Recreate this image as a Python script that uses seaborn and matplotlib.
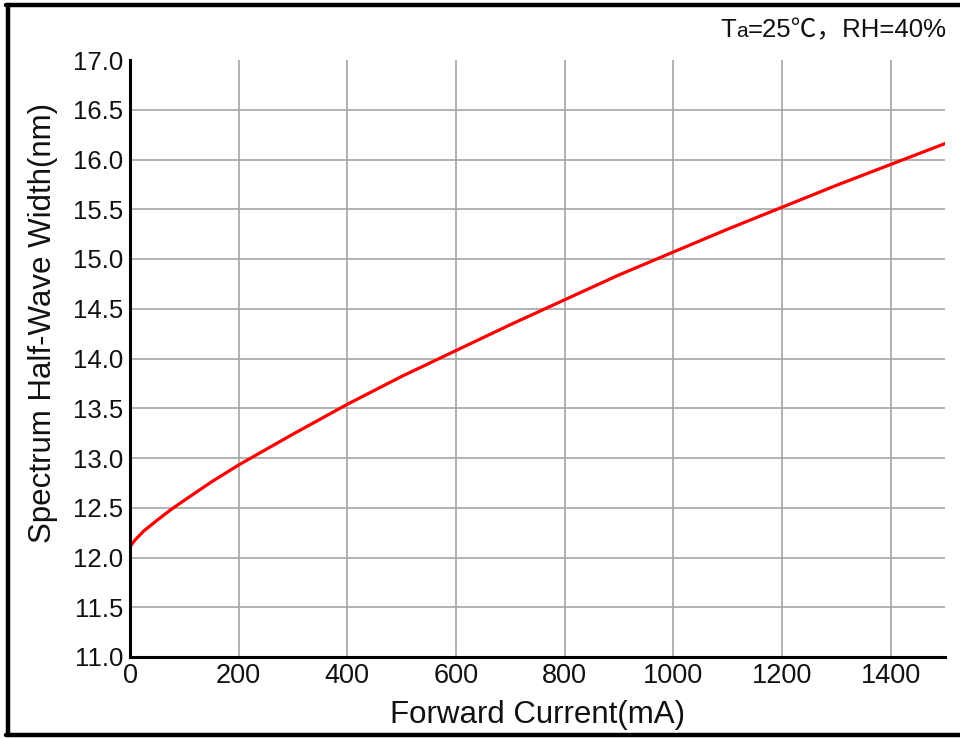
import matplotlib
matplotlib.use("Agg")
import matplotlib.pyplot as plt
import seaborn as sns
import pandas as pd
from matplotlib.lines import Line2D

current_ma = [0, 10, 25, 50, 75, 100, 150, 200, 300, 400, 500, 600, 700, 800, 900, 1000, 1100, 1200, 1300, 1400, 1500]
half_width_nm = [12.11, 12.18, 12.265, 12.375, 12.48, 12.575, 12.76, 12.93, 13.24, 13.54, 13.82, 14.08, 14.34, 14.59, 14.84, 15.07, 15.30, 15.52, 15.74, 15.95, 16.16]
x_ticks = [0, 200, 400, 600, 800, 1000, 1200, 1400]
y_ticks = [11.0, 11.5, 12.0, 12.5, 13.0, 13.5, 14.0, 14.5, 15.0, 15.5, 16.0, 16.5, 17.0]

sns.set_theme(style="white")
plt.rcParams['font.family'] = ['Liberation Sans', 'Noto Sans CJK SC', 'DejaVu Sans']

df = pd.DataFrame({"current": current_ma, "width": half_width_nm})

fig = plt.figure(figsize=(9.6, 7.38), dpi=100)
fig.patch.set_facecolor("white")
ax = fig.add_axes([130/960, 1-657/738, (945-130)/960, (657-60)/738])

sns.lineplot(data=df, x="current", y="width", ax=ax, color="#ff0000", linewidth=2.3)

ax.set_xlim(0, 1500)
ax.set_ylim(11.0, 17.0)
ax.set_xticks(x_ticks)
ax.set_yticks(y_ticks)
ax.set_xticklabels([str(v) for v in x_ticks], fontsize=19.5)
ax.set_yticklabels([f"{v:.1f}" for v in y_ticks], fontsize=18.5)
ax.tick_params(axis="both", length=0, pad=5, colors="#111111")
ax.tick_params(axis="x", pad=4)

for v in x_ticks[1:]:
    ax.axvline(v, color="#a6a6a6", linewidth=1.2, zorder=0)
for v in y_ticks[1:-1]:
    ax.axhline(v, color="#a6a6a6", linewidth=1.2, zorder=0)

for s in ["top", "right"]:
    ax.spines[s].set_visible(False)
for s in ["left", "bottom"]:
    ax.spines[s].set_color("black")
    ax.spines[s].set_linewidth(2.2)

ax.set_xlabel("Forward Current(mA)", fontsize=22.5, color="#111111")
ax.set_ylabel("Spectrum Half-Wave Width(nm)", fontsize=22.5, color="#111111")
ax.xaxis.set_label_coords(0.5, -0.1106)
ax.xaxis.label.set_va("baseline")
ax.yaxis.set_label_coords(-0.088, 0.56)

# figure border (top, left, bottom)
W, H = 960, 738
for (x0, y0, x1, y1) in [(6, 5, 960, 5), (8, 5, 8, 735), (6, 735, 960, 735)]:
    fig.add_artist(Line2D([x0/W, x1/W], [1-y0/H, 1-y1/H], color="black", linewidth=3.2,
                          transform=fig.transFigure))

# annotation "Ta=25℃，RH=40%" with small 'a'
fig.canvas.draw()
r = fig.canvas.get_renderer()
base_y = 1 - 37/H
t3 = fig.text(947/W, base_y, "=25℃，RH=40%", fontsize=18.5, ha="right", va="baseline", color="#111111")
bb3 = t3.get_window_extent(r)
t2 = fig.text(bb3.x0/W, base_y, "a", fontsize=15, ha="right", va="baseline", color="#111111")
bb2 = t2.get_window_extent(r)
fig.text(bb2.x0/W, base_y, "T", fontsize=18.5, ha="right", va="baseline", color="#111111")

fig.savefig("out.png", dpi=100, facecolor="white")
